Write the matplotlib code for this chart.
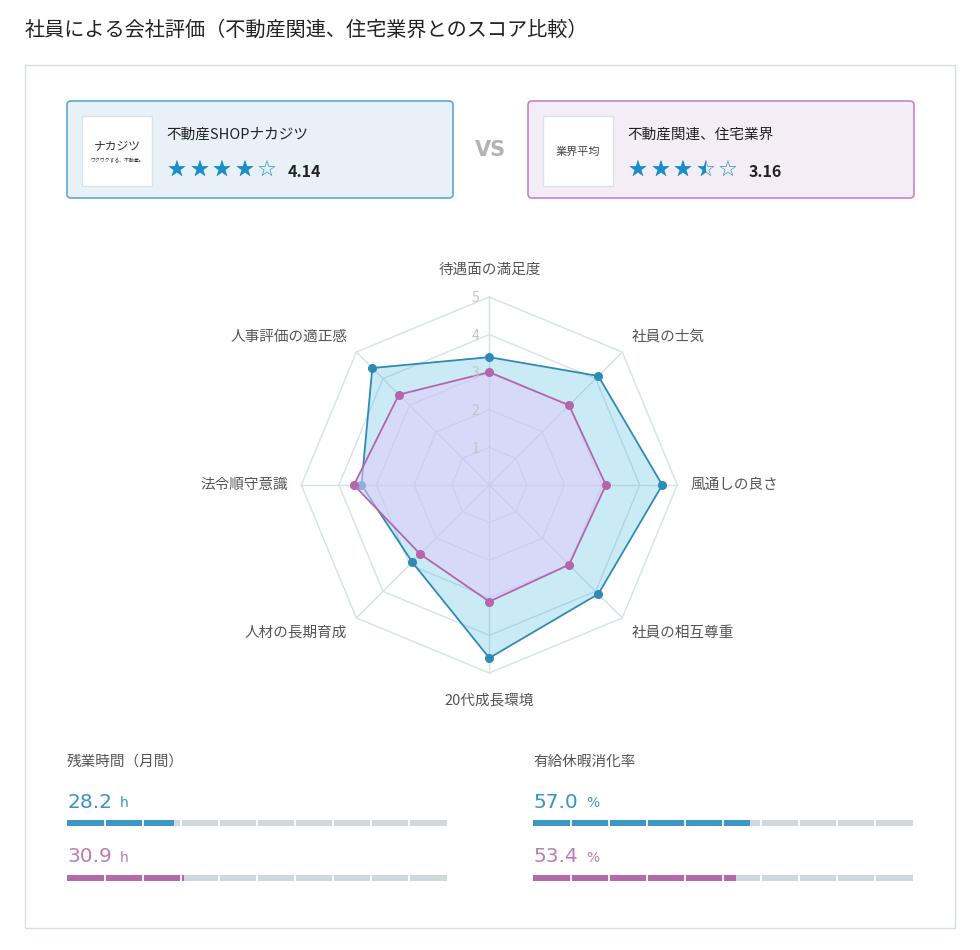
import numpy as np
import matplotlib
matplotlib.use("Agg")
import matplotlib.pyplot as plt
from matplotlib.patches import FancyBboxPatch, Rectangle
from matplotlib.transforms import Bbox, TransformedBbox

plt.rcParams['font.family'] = ['Noto Sans CJK JP', 'DejaVu Sans']

#####################################################################
# data
title = "社員による会社評価（不動産関連、住宅業界とのスコア比較）"
axis_labels = ['待遇面の満足度', '社員の士気', '風通しの良さ', '社員の相互尊重',
               '20代成長環境', '人材の長期育成', '法令順守意識', '人事評価の適正感']
company_scores = [3.4, 4.1, 4.6, 4.1, 4.6, 2.9, 3.4, 4.4]
industry_scores = [3.0, 3.0, 3.1, 3.0, 3.1, 2.6, 3.6, 3.4]

company_name = "不動産SHOPナカジツ"
industry_name = "不動産関連、住宅業界"
company_total = 4.14
industry_total = 3.16

overtime_label = "残業時間（月間）"
overtime = [28.2, 30.9]      # h
leave_label = "有給休暇消化率"
leave = [57.0, 53.4]         # %

#####################################################################
blue = '#2f8ab6'
magenta = '#b565aa'
star_col = '#1b8fca'
grey_txt = '#555555'

W, H = 980, 950
fig = plt.figure(figsize=(W / 100, H / 100), dpi=100)

# page overlay in pixel coords
ax = fig.add_axes([0, 0, 1, 1])
ax.set_xlim(0, W)
ax.set_ylim(H, 0)
ax.axis('off')

ax.text(25, 30, title, fontsize=14.5, color='#222222', va='center', ha='left')
ax.add_patch(Rectangle((25, 65), 930, 863, facecolor='white', edgecolor='#d4dfe4', lw=1))


def card(x0, face, edge, name, total):
    ax.add_patch(FancyBboxPatch((x0, 101), 386, 97, boxstyle="round,pad=0,rounding_size=4",
                                facecolor=face, edgecolor=edge, lw=1.2))
    ax.add_patch(Rectangle((x0 + 15, 116), 70, 70, facecolor='white', edgecolor='#d6e3ea', lw=1))
    ax.text(x0 + 99, 135, name, fontsize=10.5, color='#222222', va='center', ha='left')
    # stars
    for i in range(5):
        sx = x0 + 110 + i * 22.5
        ax.text(sx, 171, '☆', fontsize=16, color=star_col, va='center', ha='center',
                family='DejaVu Sans')
        frac = min(max(total - i, 0), 1)
        if frac >= 0.75:
            frac = 1
        elif frac >= 0.15:
            frac = 0.5
        else:
            frac = 0
        if frac > 0:
            t = ax.text(sx, 171, '★', fontsize=16, color=star_col, va='center', ha='center',
                        family='DejaVu Sans')
            if frac < 1:
                t.set_clip_box(TransformedBbox(Bbox([[sx - 14, 150], [sx, 192]]), ax.transData))
                t.set_clip_on(True)
    ax.text(x0 + 221, 172, f"{total:.2f}", fontsize=11.5, fontweight='bold', color='#222222',
            va='center', ha='left')


card(67, '#e8f1f8', '#5aa8d4', company_name, company_total)
card(528, '#f4edf6', '#c883c2', industry_name, industry_total)
# logos
ax.text(117, 147, 'ナカジツ', fontsize=8.5, color='#333333', va='center', ha='center')
ax.text(117, 161, 'ワクワクする、不動産。', fontsize=3.5, color='#333333', va='center', ha='center')
ax.text(578, 152, '業界平均', fontsize=8, color='#444444', va='center', ha='center')
ax.text(490, 150, 'VS', fontsize=15, fontweight='bold', color='#b3b3b3', va='center', ha='center',
        family='DejaVu Sans')

#####################################################################
# radar
U = 37.6
cx, cy = 489.3, 485.0
bx0, bx1, by0, by1 = 160, 820, 240, 730
rax = fig.add_axes([bx0 / W, (H - by1) / H, (bx1 - bx0) / W, (by1 - by0) / H])
rax.set_xlim((bx0 - cx) / U, (bx1 - cx) / U)
rax.set_ylim((cy - by1) / U, (cy - by0) / U)
rax.axis('off')

n = len(axis_labels)
theta = np.deg2rad(90 - 45 * np.arange(n))
ct, st = np.cos(theta), np.sin(theta)
grid_col = '#d5e2e7'
for r in range(1, 6):
    rax.plot(np.append(r * ct, r * ct[0]), np.append(r * st, r * st[0]), color=grid_col, lw=1, zorder=1)
for i in range(n):
    rax.plot([0, 5 * ct[i]], [0, 5 * st[i]], color=grid_col, lw=1, zorder=1)


def series(vals, line, fill, alpha, z):
    v = np.array(vals)
    xs, ys = v * ct, v * st
    rax.fill(xs, ys, color=fill, alpha=alpha, lw=0, zorder=z)
    rax.plot(np.append(xs, xs[0]), np.append(ys, ys[0]), color=line, lw=1.3, zorder=z + 0.1)
    rax.plot(xs, ys, 'o', color=line, ms=5.5, zorder=z + 0.2)


series(company_scores, blue, '#35b2de', 0.26, 2)
series(industry_scores, magenta, '#e3cbfa', 0.55, 3)

for r in range(1, 6):
    rax.text(-0.37, r - 0.03, str(r), fontsize=10, color='#c4c4c4', ha='center', va='center', zorder=5)

for i, lab in enumerate(axis_labels):
    x, y = ct[i], st[i]
    if abs(x) < 0.01:
        rax.text(0, 5.72 * np.sign(y), lab, fontsize=10.5, color=grey_txt, ha='center', va='center')
    else:
        rr = 5.35
        ha = 'left' if x > 0 else 'right'
        yy = rr * y + (0.15 * np.sign(y) if abs(y) > 0.01 else 0)
        rax.text(rr * x, yy, lab, fontsize=10.5, color=grey_txt, ha=ha, va='center')

#####################################################################
# progress bars
def bar_block(x0, label, vals, unit):
    ax.text(x0, 762, label, fontsize=10.5, color=grey_txt, va='center', ha='left')
    for k, (v, col, tcol) in enumerate(zip(vals, [blue, magenta], ['#3a93c1', '#be7ab6'])):
        ty = 802 + k * 55
        t = ax.text(x0, ty, f"{v:.1f}", fontsize=14.5, color=tcol, va='center', ha='left',
                    family='DejaVu Sans')
        fig.canvas.draw()
        bb = t.get_window_extent()
        ax.text(bb.x1 + 8, ty + 1, unit, fontsize=10, color=tcol, va='center', ha='left',
                family='DejaVu Sans')
        yc = 823 + k * 55
        bax = fig.add_axes([x0 / W, (H - yc - 3) / H, 380 / W, 6 / H])
        bax.set_xlim(0, 100)
        bax.set_ylim(0, 1)
        bax.axis('off')
        bax.barh(0.5, 100, height=1, color='#cfd8dd')
        bax.barh(0.5, v, height=1, color='#3d97c4' if k == 0 else '#b26aa8')
        bax.vlines(np.arange(10, 100, 10), 0, 1, color='white', lw=1.3)


bar_block(67, overtime_label, overtime, 'h')
bar_block(533, leave_label, leave, '%')

fig.savefig("out.png", dpi=100)
